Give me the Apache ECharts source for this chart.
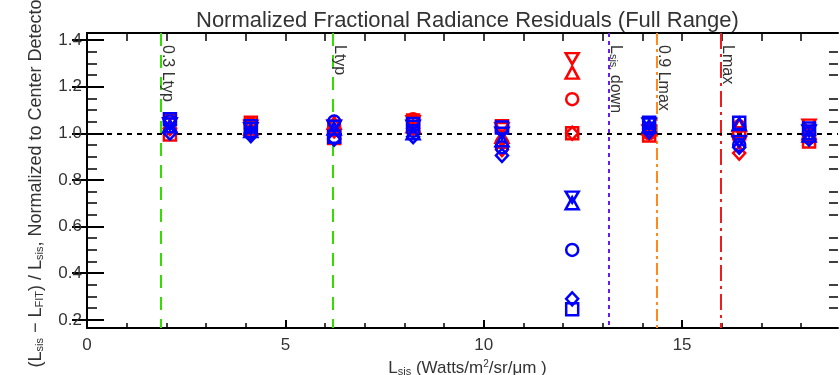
<!DOCTYPE html>
<html>
<head>
<meta charset="utf-8">
<script src="https://cdn.jsdelivr.net/npm/echarts@6/dist/echarts.min.js"></script>
<style>
  html, body { margin: 0; padding: 0; background: #ffffff; }
  #chart { width: 840px; height: 375px; }
</style>
</head>
<body>
<div id="chart"></div>
<script>
// Radiance levels (Watts/m²/sr/μm) at which the sphere was measured
const clusterX = [2.09, 4.13, 6.23, 8.22, 10.46, 12.23, 14.17, 16.44, 18.2];

// Normalized fractional residuals, detector set A (red)
const redSquare   = [0.995, 1.045, 0.980, 1.055, 1.030, 1.000, 0.990, 1.000, 0.965];
const redCircle   = [1.060, 1.040, 1.030, 1.060, 0.960, 1.146, 1.000, 1.030, 0.980];
const redTriUp    = [1.030, 1.020, 1.045, 1.030, 0.985, 1.260, 1.020, 1.035, 1.000];
const redTriDown  = [1.040, 1.030, 1.030, 1.050, 1.020, 1.320, 1.010, 0.960, 1.035];
const redDiamond  = [1.020, 1.000, 1.010, 1.020, 0.930, 1.000, 1.000, 0.915, 0.990];

// Normalized fractional residuals, detector set B (blue)
const blueSquare  = [1.060, 1.030, 0.985, 1.040, 1.025, 0.245, 1.045, 1.045, 1.020];
const blueCircle  = [1.050, 1.000, 1.050, 1.010, 0.940, 0.500, 1.020, 0.950, 1.000];
const blueTriUp   = [1.030, 1.010, 1.020, 1.000, 0.970, 0.700, 1.030, 1.040, 0.990];
const blueTriDown = [1.040, 1.020, 1.030, 1.030, 1.000, 0.726, 1.040, 0.965, 1.010];
const blueDiamond = [1.000, 0.990, 0.975, 0.985, 0.905, 0.290, 1.005, 0.940, 0.975];

// Reference radiance levels drawn as vertical lines
const refLineX      = [1.865, 6.20, 13.16, 14.37, 15.98];
const refLineLabels = ['0.3 Ltyp', 'Ltyp', '{t|L}{s|sis,}{t| down}', '0.9 Lmax', 'Lmax'];
const refLineColors = ['#33dd00', '#33dd00', '#6a1ee6', '#ff8a1c', '#ee1c1c'];
const refLineDashes = [[13, 9], [13, 9], [4, 4], [12, 4, 3, 4], [16, 5, 3, 5]];

// Axis ranges and tick positions
const X_MIN = 0, X_MAX = 18.93;
const Y_MIN = 0.165, Y_MAX = 1.43;
const xMajorTicks = [0, 5, 10, 15];
const xMinorTicks = [1, 2, 3, 4, 6, 7, 8, 9, 11, 12, 13, 14, 16, 17, 18];
const xTopTicks   = [1, 2, 3, 4, 5, 6, 7, 8, 9, 10, 11, 12, 13, 14, 15, 16, 17, 18];
const yMajorTicks = [0.2, 0.4, 0.6, 0.8, 1.0, 1.2, 1.4];
const yMinorTicks = [0.25, 0.3, 0.35, 0.45, 0.5, 0.55, 0.65, 0.7, 0.75, 0.85, 0.9, 0.95,
                     1.05, 1.1, 1.15, 1.25, 1.3, 1.35];

const RED = '#ff0000';
const BLUE = '#0000ff';
const FONT = 'Liberation Sans, Arial, sans-serif';
const TEXT = '#333333';

const SYM_TRI_DOWN = 'path://M0,0 L12,0 L6,11 Z';

function pts(vals) {
  return vals.map((v, i) => [clusterX[i], v]);
}

function markerSeries(name, vals, symbol, size, color) {
  return {
    name: name,
    type: 'scatter',
    data: pts(vals),
    symbol: symbol,
    symbolSize: size,
    symbolKeepAspect: true,
    silent: true,
    itemStyle: { color: 'rgba(0,0,0,0)', borderColor: color, borderWidth: 2.5, opacity: 1 },
    z: 5
  };
}

const refLines = refLineX.map((x, i) => [
  {
    coord: [x, Y_MAX],
    lineStyle: { color: refLineColors[i], type: refLineDashes[i], width: 2 },
    label: {
      show: true,
      formatter: refLineLabels[i],
      position: 'insideStartTop',
      distance: [12, -2],
      color: TEXT,
      fontFamily: FONT,
      fontSize: 16,
      rich: {
        t: { fontFamily: FONT, fontSize: 16, color: TEXT },
        s: { fontFamily: FONT, fontSize: 11, color: TEXT, verticalAlign: 'bottom', padding: [6, 0, 0, 0] }
      }
    }
  },
  { coord: [x, Y_MIN] }
]);

const axisBase = {
  type: 'value',
  splitLine: { show: false },
  axisLine: { show: true, lineStyle: { color: '#000', width: 2 } }
};

const option = {
  animation: false,
  backgroundColor: '#ffffff',
  title: {
    text: 'Normalized Fractional Radiance Residuals (Full Range)',
    left: 191,
    top: 5,
    textStyle: { fontFamily: FONT, fontSize: 22, fontWeight: 'normal', color: TEXT }
  },
  grid: { left: 87, right: 2, top: 33, bottom: 47, containLabel: false, outerBoundsMode: 'none' },
  xAxis: [
    Object.assign({}, axisBase, {
      min: X_MIN, max: X_MAX, position: 'bottom',
      name: '{t|L}{s|sis}{t| (Watts/m}{u|2}{t|/sr/μm )}',
      nameLocation: 'middle',
      nameGap: 31,
      nameTextStyle: {
        padding: [0, 0, 0, 10],
        rich: {
          t: { fontFamily: FONT, fontSize: 17, color: TEXT },
          s: { fontFamily: FONT, fontSize: 11, color: TEXT, verticalAlign: 'bottom', padding: [7, 0, 0, 0] },
          u: { fontFamily: FONT, fontSize: 10, color: TEXT, verticalAlign: 'top', padding: [0, 0, 7, 0] }
        }
      },
      axisTick: { show: true, inside: true, length: 8, customValues: xMajorTicks,
                  lineStyle: { color: '#000', width: 2 } },
      axisLabel: { show: true, customValues: xMajorTicks, margin: 9,
                   fontFamily: FONT, fontSize: 17, color: TEXT }
    }),
    Object.assign({}, axisBase, {
      min: X_MIN, max: X_MAX, position: 'bottom',
      axisLine: { show: false },
      axisTick: { show: true, inside: true, length: 5, customValues: xMinorTicks,
                  lineStyle: { color: '#000', width: 1.5 } },
      axisLabel: { show: false }
    }),
    Object.assign({}, axisBase, {
      min: X_MIN, max: X_MAX, position: 'top',
      axisTick: { show: true, inside: true, length: 8, customValues: xTopTicks,
                  lineStyle: { color: '#000', width: 1.5 } },
      axisLabel: { show: false }
    })
  ],
  yAxis: [
    Object.assign({}, axisBase, {
      min: Y_MIN, max: Y_MAX, position: 'left',
      name: '{t|(L}{s|sis}{t| − L}{s|FIT}{t|) / L}{s|sis}{t|, Normalized to Center Detector}',
      nameLocation: 'middle',
      nameRotate: 90,
      nameGap: 42,
      nameTextStyle: {
        rich: {
          t: { fontFamily: FONT, fontSize: 18, color: TEXT },
          s: { fontFamily: FONT, fontSize: 11, color: TEXT, verticalAlign: 'bottom', padding: [7, 0, 0, 0] }
        }
      },
      axisTick: { show: true, inside: true, length: 17, customValues: yMajorTicks,
                  lineStyle: { color: '#000', width: 2 } },
      axisLabel: { show: true, customValues: yMajorTicks, margin: 5,
                   formatter: v => v.toFixed(1),
                   fontFamily: FONT, fontSize: 17, color: TEXT }
    }),
    Object.assign({}, axisBase, {
      min: Y_MIN, max: Y_MAX, position: 'left',
      axisLine: { show: false },
      axisTick: { show: true, inside: true, length: 10, customValues: yMinorTicks,
                  lineStyle: { color: '#000', width: 1.5 } },
      axisLabel: { show: false }
    }),
    Object.assign({}, axisBase, {
      min: Y_MIN, max: Y_MAX, position: 'right',
      axisTick: { show: true, inside: true, length: 15, customValues: yMajorTicks,
                  lineStyle: { color: '#000', width: 2 } },
      axisLabel: { show: false }
    }),
    Object.assign({}, axisBase, {
      min: Y_MIN, max: Y_MAX, position: 'right',
      axisLine: { show: false },
      axisTick: { show: true, inside: true, length: 9, customValues: yMinorTicks,
                  lineStyle: { color: '#000', width: 1.5 } },
      axisLabel: { show: false }
    })
  ],
  series: [
    {
      name: 'reference',
      type: 'scatter',
      data: [],
      silent: true,
      markLine: {
        silent: true,
        symbol: ['none', 'none'],
        animation: false,
        data: refLines.concat([
          {
            yAxis: 1.0,
            lineStyle: { color: '#000', type: [5, 5], width: 2 },
            label: { show: false }
          }
        ])
      },
      z: 3
    },
    markerSeries('A square',   redSquare,   'rect',       12, RED),
    markerSeries('A circle',   redCircle,   'circle',     12, RED),
    markerSeries('A triangle', redTriUp,    'triangle',   [13, 12], RED),
    markerSeries('A inverted', redTriDown,  SYM_TRI_DOWN, [13, 12], RED),
    markerSeries('A diamond',  redDiamond,  'diamond',    [12, 13], RED),
    markerSeries('B square',   blueSquare,  'rect',       12, BLUE),
    markerSeries('B circle',   blueCircle,  'circle',     12, BLUE),
    markerSeries('B triangle', blueTriUp,   'triangle',   [13, 12], BLUE),
    markerSeries('B inverted', blueTriDown, SYM_TRI_DOWN, [13, 12], BLUE),
    markerSeries('B diamond',  blueDiamond, 'diamond',    [12, 13], BLUE)
  ]
};

const chart = echarts.init(document.getElementById('chart'), null, { renderer: 'canvas' });
chart.setOption(option);
</script>
</body>
</html>
